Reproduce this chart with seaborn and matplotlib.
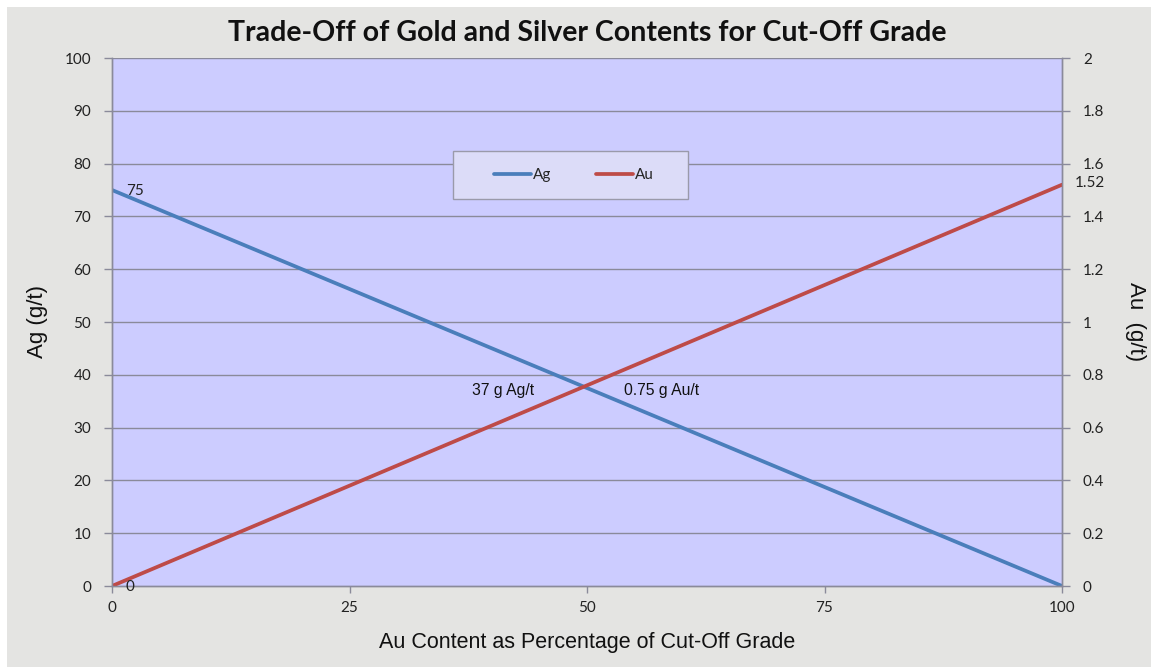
import matplotlib
matplotlib.use("Agg")
import matplotlib.pyplot as plt
import seaborn as sns
import pandas as pd

# Share of the cut-off grade carried by gold (%)
au_share = [0, 100]
# Silver grade needed at each end (g/t)
ag_grade = [75, 0]
# Gold grade at each end (g/t)
au_grade = [0, 1.52]

x_ticks = [0, 25, 50, 75, 100]
ag_ticks = list(range(0, 101, 10))
au_ticks = [0, 0.2, 0.4, 0.6, 0.8, 1, 1.2, 1.4, 1.6, 1.8, 2]
au_tick_labels = ["0", "0.2", "0.4", "0.6", "0.8", "1", "1.2", "1.4", "1.6", "1.8", "2"]

ag_color = "#4A7EBB"
au_color = "#BE4B48"
grid_color = "#8A8A9A"
plot_bg = "#CCCCFF"
fig_bg = "#E4E4E2"

sns.set_theme(style="white")
plt.rcParams["font.family"] = ["Lato", "DejaVu Sans"]

df = pd.DataFrame({"share": au_share, "Ag": ag_grade, "Au": au_grade})

fig = plt.figure(figsize=(11.51, 6.67), dpi=100, facecolor="white")
# grey chart area behind everything
fig.patches.append(plt.Rectangle((7 / 1151, 0), 1 - 7 / 1151, 1 - 7 / 667,
                                 transform=fig.transFigure, facecolor=fig_bg,
                                 edgecolor="none", zorder=0))

ax = fig.add_axes([112 / 1151, 1 - 586 / 667, (1062 - 112) / 1151, (586 - 58) / 667])
ax.set_facecolor(plot_bg)
ax2 = ax.twinx()

sns.lineplot(data=df, x="share", y="Ag", ax=ax, color=ag_color, linewidth=2.7, label="Ag", legend=False)
sns.lineplot(data=df, x="share", y="Au", ax=ax2, color=au_color, linewidth=2.7, label="Au", legend=False)

ax.set_xlim(0, 100)
ax.set_ylim(0, 100)
ax2.set_ylim(0, 2)
ax.set_xticks(x_ticks)
ax.set_xticklabels([str(t) for t in x_ticks])
ax.set_yticks(ag_ticks)
ax2.set_yticks(au_ticks)
ax2.set_yticklabels(au_tick_labels)

ax.grid(False)
ax2.grid(False)
for t in ag_ticks[1:]:
    ax.axhline(t, color=grid_color, linewidth=1, zorder=0.5)

for a in (ax, ax2):
    for side in ("top", "left", "right", "bottom"):
        a.spines[side].set_visible(side != "top")
        a.spines[side].set_color(grid_color)
        a.spines[side].set_linewidth(1)
ax.set_zorder(1)
ax2.set_zorder(2)
ax2.patch.set_visible(False)

ax.tick_params(axis="x", direction="out", length=5, width=1, color=grid_color,
               labelsize=11, labelcolor="#222222", pad=6, bottom=True)
ax.tick_params(axis="y", direction="out", length=6, width=1, color=grid_color,
               labelsize=11, labelcolor="#222222", pad=9, left=True)
ax2.tick_params(axis="y", direction="out", length=6, width=1, color=grid_color,
                labelsize=11, labelcolor="#222222", pad=9, right=True)

ax.set_xlabel("Au Content as Percentage of Cut-Off Grade", family="Liberation Sans",
              fontsize=15.5, color="#111111", labelpad=12)
ax.set_ylabel("Ag (g/t)", family="Liberation Sans", fontsize=16, color="#111111", labelpad=12)
ax2.set_ylabel("Au  (g/t)", family="Liberation Sans", fontsize=16, color="#111111",
               rotation=270, labelpad=30)

fig.text(587 / 1151, 1 - 33 / 667, "Trade-Off of Gold and Silver Contents for Cut-Off Grade",
         ha="center", va="center", fontsize=20.5, fontweight="bold", color="#111111")

# endpoint and crossing labels
ax.annotate(str(ag_grade[0]), xy=(au_share[0], ag_grade[0]), xytext=(10, -1),
            textcoords="offset points", ha="left", va="center", fontsize=11, color="#222222")
ax2.annotate(str(au_grade[0]), xy=(au_share[0], au_grade[0]), xytext=(10, -1),
             textcoords="offset points", ha="left", va="center", fontsize=11, color="#222222")
ax2.annotate(f"{au_grade[1]:.2f}", xy=(au_share[1], au_grade[1]), xytext=(9, 1),
             textcoords="offset points", ha="left", va="center", fontsize=11,
             color="#222222", annotation_clip=False)
ax.text(41.2, 37.1, "37 g Ag/t", family="Liberation Sans", fontsize=11.3, ha="center",
        va="center", color="#111111")
ax2.text(57.8, 0.742, "0.75 g Au/t", family="Liberation Sans", fontsize=11.3, ha="center",
         va="center", color="#111111")

# legend panel
ax2.add_patch(plt.Rectangle(((453 - 112) / 950, (586 - 199) / 528), 235 / 950, 48 / 528,
                            transform=ax2.transAxes, facecolor="#DCDCF8",
                            edgecolor="#9A9AAA", linewidth=1, zorder=3))
h1, l1 = ax.get_legend_handles_labels()
h2, l2 = ax2.get_legend_handles_labels()
leg = ax2.legend(h1 + h2, l1 + l2, ncol=2, loc="center",
                 bbox_to_anchor=((574 - 112) / 950, (586 - 175) / 528),
                 frameon=False, fontsize=11, handlelength=2.4,
                 handletextpad=0.15, columnspacing=2.9, borderaxespad=0)
leg.set_zorder(4)

fig.savefig("out.png", dpi=100, facecolor="white")
